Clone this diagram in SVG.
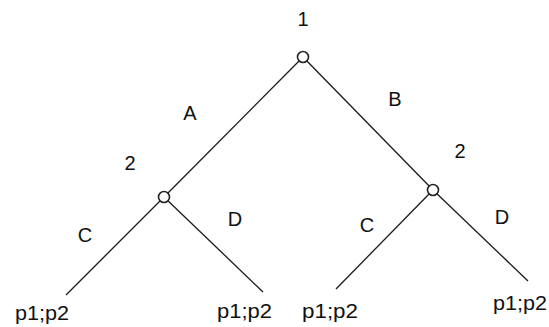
<svg xmlns="http://www.w3.org/2000/svg" width="549" height="327" viewBox="0 0 549 327">
<style>
.edge{stroke:#1a1a1a;stroke-width:1.3;fill:none}
.node{fill:#fff;stroke:#222;stroke-width:1.6}
text{font-family:"Liberation Sans",Arial,sans-serif;font-size:20px;fill:#111}
.m{text-anchor:middle}
</style>
<rect width="549" height="327" fill="#fff"/>
<g id="connectors">
<line class="edge" x1="303" y1="57" x2="164" y2="197"/>
<line class="edge" x1="303" y1="57" x2="433" y2="190"/>
<line class="edge" x1="164" y1="197" x2="66" y2="295"/>
<line class="edge" x1="164" y1="197" x2="263" y2="292"/>
<line class="edge" x1="433" y1="190" x2="336" y2="289"/>
<line class="edge" x1="433" y1="190" x2="528" y2="281"/>
<text class="m" x="190" y="120">A</text>
<text class="m" x="395" y="106">B</text>
<text class="m" x="85" y="242">C</text>
<text class="m" x="235" y="226">D</text>
<text class="m" x="367" y="232">C</text>
<text class="m" x="502" y="224">D</text>
</g>
<g id="n1">
<circle class="node" cx="303" cy="57" r="5.5"/>
<text class="m" x="303" y="26">1</text>
</g>
<g id="n2a">
<circle class="node" cx="164" cy="197" r="5.5"/>
<text class="m" x="130" y="170">2</text>
</g>
<g id="n2b">
<circle class="node" cx="433" cy="190" r="5.5"/>
<text class="m" x="460" y="158">2</text>
</g>
<g id="leaf1"><text x="15" y="320" textLength="54" lengthAdjust="spacingAndGlyphs">p1;p2</text></g>
<g id="leaf2"><text x="217" y="318" textLength="55" lengthAdjust="spacingAndGlyphs">p1;p2</text></g>
<g id="leaf3"><text x="302" y="318" textLength="56" lengthAdjust="spacingAndGlyphs">p1;p2</text></g>
<g id="leaf4"><text x="493" y="310" textLength="54" lengthAdjust="spacingAndGlyphs">p1;p2</text></g>
</svg>
